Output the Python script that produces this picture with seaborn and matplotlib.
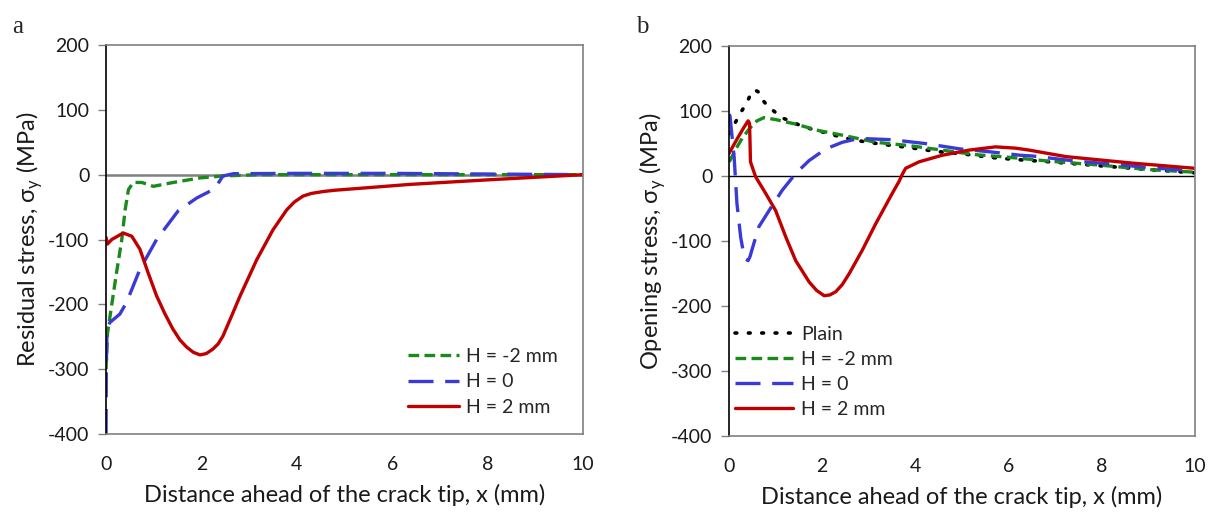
import matplotlib
matplotlib.use("Agg")
import matplotlib.pyplot as plt
import seaborn as sns

# panel a: residual stress
a_x_neg2 = [0, 0.03, 0.1, 0.22, 0.33, 0.40, 0.47, 0.57, 0.75, 0.99, 1.41, 1.97, 2.45, 3.2, 5, 7, 10]
a_y_neg2 = [-300, -245, -210, -151, -100, -54, -23, -12, -12, -18, -12, -5, -2, 0, 0, 0, 0]

a_x_zero = [0, 0.005, 0.02, 0.08, 0.29, 0.43, 0.71, 1.06, 1.51, 1.9, 2.14, 2.29, 2.38, 2.45, 2.67, 4, 6, 8, 10]
a_y_zero = [-400, -300, -238, -228, -215, -197, -146, -100, -56, -36, -27, -20, -10, -2, 1.5, 2, 2, 1, 0]

a_x_pos2 = [0, 0.03, 0.12, 0.36, 0.54, 0.71, 0.88, 1.06, 1.23, 1.40, 1.55, 1.69, 1.83, 1.97, 2.1, 2.24,
            2.35, 2.45, 2.62, 2.81, 3.16, 3.50, 3.79, 3.95, 4.13, 4.3, 4.55, 4.8, 5.5, 6.37, 8, 10]
a_y_pos2 = [-97, -107, -100, -90, -95, -115, -151, -187, -214, -238, -255, -266, -274, -278, -276, -269,
            -261, -249, -220, -187, -131, -85, -54, -42, -33, -29, -26, -24, -20, -15, -8, 0]

# panel b: opening stress
b_x_plain = [0, 0.04, 0.17, 0.26, 0.36, 0.44, 0.55, 0.64, 0.71, 0.84, 0.98, 1.13, 1.3, 1.46, 1.64,
             2.0, 2.36, 2.72, 3.28, 3.86, 4.44, 5.15, 5.72, 6.26, 6.87, 7.94, 9.01, 10]
b_y_plain = [65, 70, 87, 99, 110, 122, 133, 129, 118, 107, 99, 90, 85, 80, 75,
             68, 61, 55, 49, 44, 38, 33, 28, 25, 22, 16, 10, 5]

b_x_neg2 = [0, 0.02, 0.15, 0.28, 0.46, 0.6, 0.75, 1.0, 1.43, 1.93, 2.43, 3.15, 3.86, 4.57, 5.29,
            6.0, 6.44, 6.87, 7.94, 9.01, 10]
b_y_neg2 = [22, 24, 42, 58, 75, 85, 90, 87, 80, 70, 63, 52, 47, 40, 33,
            29, 26, 23, 17, 10, 6]

b_x_zero = [0, 0.02, 0.11, 0.17, 0.25, 0.32, 0.36, 0.41, 0.45, 0.49, 0.64, 0.86, 1.14, 1.43, 1.72,
            2.08, 2.43, 2.79, 3.5, 4.22, 4.94, 5.65, 6.26, 6.5, 7.45, 8.3, 9.01, 10]
b_y_zero = [95, 93, 29, -42, -94, -122, -128, -130, -124, -114, -78, -53, -22, 4, 24,
            42, 52, 58, 56, 50, 42, 37, 32, 31, 23, 18, 13, 8]

b_x_pos2 = [0, 0.18, 0.32, 0.41, 0.44, 0.45, 0.46, 0.57, 0.79, 1.0, 1.22, 1.43, 1.72, 1.88, 2.04,
            2.16, 2.29, 2.43, 2.58, 2.86, 3.15, 3.5, 3.65, 3.72, 3.79, 4.08, 4.57, 5.15, 5.72,
            6.15, 6.44, 7.23, 8.65, 10]
b_y_pos2 = [35, 58, 75, 85, 81, 55, 22, -1, -27, -53, -94, -130, -163, -176, -184,
            -183, -178, -167, -150, -114, -73, -27, -8, 3, 12, 22, 32, 40, 45,
            43, 40, 30, 20, 12]

labels = ["Plain", "H = -2 mm", "H = 0", "H = 2 mm"]
x_ticks = [0, 2, 4, 6, 8, 10]
y_ticks = [-400, -300, -200, -100, 0, 100, 200]

sns.set_theme(style="white")
plt.rcParams['font.family'] = ['Lato', 'DejaVu Sans']
plt.rcParams['axes.unicode_minus'] = False

green = "#1a8a1a"
blue = "#3a3ad6"
red = "#c00000"
txt = "#1a1a1a"

fig = plt.figure(figsize=(12.12, 5.15), dpi=100)
ax1 = fig.add_axes([0.0875, 0.1573, 0.3936, 0.7553])
ax2 = fig.add_axes([0.6015, 0.1534, 0.3845, 0.757])

short_dash = (0, (3.2, 1.6))
long_dash = (0, (7.5, 3.5))
dots = (0, (0.5, 3.2))

# panel a
sns.lineplot(x=a_x_neg2, y=a_y_neg2, ax=ax1, color=green, lw=2.4, linestyle=short_dash,
             label=labels[1], sort=False)
sns.lineplot(x=a_x_zero, y=a_y_zero, ax=ax1, color=blue, lw=2.4, linestyle=long_dash,
             label=labels[2], sort=False)
sns.lineplot(x=a_x_pos2, y=a_y_pos2, ax=ax1, color=red, lw=2.4, label=labels[3], sort=False)
ax1.axhline(0, color="#808080", lw=1.8, zorder=0)

# panel b
sns.lineplot(x=b_x_plain, y=b_y_plain, ax=ax2, color="black", lw=2.6, linestyle=dots,
             dash_capstyle="round", label=labels[0], sort=False)
sns.lineplot(x=b_x_neg2, y=b_y_neg2, ax=ax2, color=green, lw=2.4, linestyle=short_dash,
             label=labels[1], sort=False)
sns.lineplot(x=b_x_zero, y=b_y_zero, ax=ax2, color=blue, lw=2.4, linestyle=long_dash,
             label=labels[2], sort=False)
sns.lineplot(x=b_x_pos2, y=b_y_pos2, ax=ax2, color=red, lw=2.4, label=labels[3], sort=False)
ax2.axhline(0, color="black", lw=1.0, zorder=0)

ylabels = ["Residual stress, σ$_\\mathregular{y}$ (MPa)", "Opening stress, σ$_\\mathregular{y}$ (MPa)"]
for ax, yl in zip([ax1, ax2], ylabels):
    ax.set_xlim(0, 10)
    ax.set_ylim(-400, 200)
    ax.set_xticks(x_ticks)
    ax.set_yticks(y_ticks)
    ax.tick_params(axis="both", labelsize=14, colors=txt)
    ax.tick_params(axis="y", direction="out", length=6, width=1, color="#808080", left=True, pad=6)
    ax.tick_params(axis="x", length=0, pad=16)
    ax.set_xlabel("Distance ahead of the crack tip, x (mm)", fontsize=17, color=txt, labelpad=8)
    ax.set_ylabel(yl, fontsize=17, color=txt, labelpad=2)
    for s in ["top", "right", "bottom"]:
        ax.spines[s].set_color("#808080")
        ax.spines[s].set_linewidth(1.2)
    ax.spines["left"].set_color("black")
    ax.spines["left"].set_linewidth(1.2)

ax1.legend(loc="upper left", bbox_to_anchor=(0.633, 0.222), frameon=False, fontsize=14,
           handlelength=2.6, handletextpad=0.4, labelspacing=0.45, borderpad=0, borderaxespad=0)
ax2.legend(loc="upper left", bbox_to_anchor=(0.013, 0.283), frameon=False, fontsize=14,
           handlelength=3.0, handletextpad=0.4, labelspacing=0.42, borderpad=0, borderaxespad=0)

fig.text(0.010, 0.935, "a", fontsize=18, family="Liberation Serif")
fig.text(0.525, 0.935, "b", fontsize=18, family="Liberation Serif")

fig.savefig("out.png", dpi=100)
